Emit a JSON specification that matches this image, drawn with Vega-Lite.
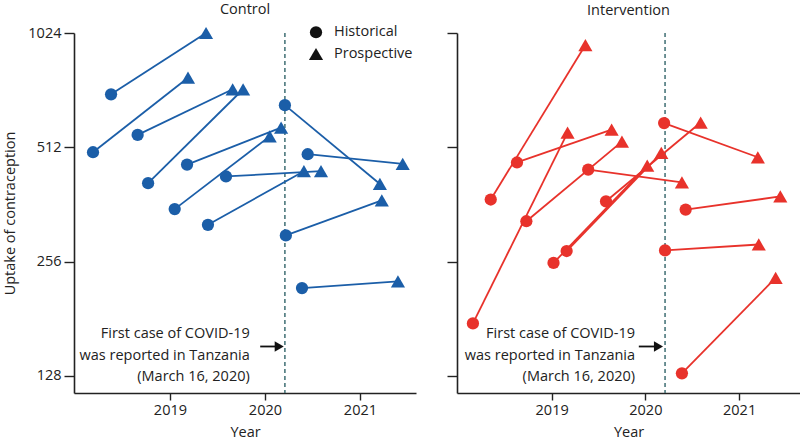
{
  "$schema": "https://vega.github.io/schema/vega-lite/v6.json",
  "background": "white",
  "padding": {"left": 2, "top": 1, "right": 0, "bottom": 0},
  "spacing": 30,
  "config": {
    "font": "Open Sans",
    "view": {"stroke": null},
    "axis": {"grid": false, "domainColor": "#222", "domainWidth": 1.6, "tickColor": "#222", "tickWidth": 1.4, "labelFont": "Open Sans", "labelFontSize": 14.5, "labelColor": "#222", "titleFont": "Open Sans", "titleFontSize": 14.5, "titleFontWeight": "normal", "titleColor": "#222"},
    "title": {"font": "Open Sans", "fontSize": 14.5, "fontWeight": "normal", "color": "#222"},
    "legend": {"labelFont": "Open Sans", "labelFontSize": 14.5, "labelColor": "#222", "symbolBaseFillColor": "#111", "symbolBaseStrokeColor": "#111"}
  },
  "datasets": {
    "control": [
      {"id": 1, "type": "Historical", "year": 2018.38, "value": 706},
      {"id": 1, "type": "Prospective", "year": 2019.38, "value": 1024},
      {"id": 2, "type": "Historical", "year": 2018.19, "value": 497},
      {"id": 2, "type": "Prospective", "year": 2019.19, "value": 781},
      {"id": 3, "type": "Historical", "year": 2018.66, "value": 552},
      {"id": 3, "type": "Prospective", "year": 2019.66, "value": 728},
      {"id": 4, "type": "Historical", "year": 2018.77, "value": 412},
      {"id": 4, "type": "Prospective", "year": 2019.77, "value": 728},
      {"id": 5, "type": "Historical", "year": 2019.18, "value": 461},
      {"id": 5, "type": "Prospective", "year": 2020.17, "value": 577},
      {"id": 6, "type": "Historical", "year": 2019.05, "value": 352},
      {"id": 6, "type": "Prospective", "year": 2020.05, "value": 547},
      {"id": 7, "type": "Historical", "year": 2019.59, "value": 429},
      {"id": 7, "type": "Prospective", "year": 2020.59, "value": 443},
      {"id": 8, "type": "Historical", "year": 2019.40, "value": 320},
      {"id": 8, "type": "Prospective", "year": 2020.41, "value": 443},
      {"id": 9, "type": "Historical", "year": 2020.21, "value": 661},
      {"id": 9, "type": "Prospective", "year": 2021.21, "value": 410},
      {"id": 10, "type": "Historical", "year": 2020.45, "value": 491},
      {"id": 10, "type": "Prospective", "year": 2021.45, "value": 463},
      {"id": 11, "type": "Historical", "year": 2020.22, "value": 300},
      {"id": 11, "type": "Prospective", "year": 2021.23, "value": 371},
      {"id": 12, "type": "Historical", "year": 2020.39, "value": 218},
      {"id": 12, "type": "Prospective", "year": 2021.40, "value": 227}
    ],
    "intervention": [
      {"id": 1, "type": "Historical", "year": 2018.16, "value": 176},
      {"id": 1, "type": "Prospective", "year": 2019.17, "value": 560},
      {"id": 2, "type": "Historical", "year": 2018.35, "value": 373},
      {"id": 2, "type": "Prospective", "year": 2019.36, "value": 952},
      {"id": 3, "type": "Historical", "year": 2018.63, "value": 467},
      {"id": 3, "type": "Prospective", "year": 2019.64, "value": 570},
      {"id": 4, "type": "Historical", "year": 2018.73, "value": 327},
      {"id": 4, "type": "Prospective", "year": 2019.75, "value": 530},
      {"id": 5, "type": "Historical", "year": 2019.39, "value": 447},
      {"id": 5, "type": "Prospective", "year": 2020.39, "value": 414},
      {"id": 6, "type": "Historical", "year": 2019.02, "value": 254},
      {"id": 6, "type": "Prospective", "year": 2020.02, "value": 458},
      {"id": 7, "type": "Historical", "year": 2019.16, "value": 273},
      {"id": 7, "type": "Prospective", "year": 2020.17, "value": 495},
      {"id": 8, "type": "Historical", "year": 2019.58, "value": 369},
      {"id": 8, "type": "Prospective", "year": 2020.59, "value": 595},
      {"id": 9, "type": "Historical", "year": 2020.20, "value": 593},
      {"id": 9, "type": "Prospective", "year": 2021.20, "value": 482},
      {"id": 10, "type": "Historical", "year": 2020.43, "value": 351},
      {"id": 10, "type": "Prospective", "year": 2021.44, "value": 380},
      {"id": 11, "type": "Historical", "year": 2020.21, "value": 274},
      {"id": 11, "type": "Prospective", "year": 2021.21, "value": 284},
      {"id": 12, "type": "Historical", "year": 2020.39, "value": 130},
      {"id": 12, "type": "Prospective", "year": 2021.39, "value": 232}
    ],
    "covid": [{"date": 2020.21}],
    "noteLeft": [{"year": 2019.84, "value": 165, "label": "First case of COVID-19\nwas reported in Tanzania\n(March 16, 2020)"}],
    "arrowLeft": [{"x1": 2019.95, "x2": 2020.13, "y": 153, "tip": 2020.15}],
    "noteRight": [{"year": 2019.89, "value": 165, "label": "First case of COVID-19\nwas reported in Tanzania\n(March 16, 2020)"}],
    "arrowRight": [{"x1": 2019.93, "x2": 2020.11, "y": 153, "tip": 2020.14}]
  },
  "resolve": {"legend": {"shape": "independent", "size": "independent", "color": "independent"}, "scale": {"shape": "independent", "size": "independent", "color": "independent"}},
  "hconcat": [
    {
      "title": {"text": "Control", "offset": 8},
      "width": 342,
      "height": 360,
      "layer": [
        {
          "data": {"name": "covid"},
          "mark": {"type": "rule", "color": "#3f6e73", "strokeDash": [4, 3], "strokeWidth": 1.5},
          "encoding": {"x": {"field": "date", "type": "quantitative"}}
        },
        {
          "data": {"name": "control"},
          "mark": {"type": "line", "strokeWidth": 1.8},
          "encoding": {
            "x": {"field": "year", "type": "quantitative", "scale": {"domain": [2017.99, 2021.59], "nice": false, "zero": false},
              "axis": {"values": [2019, 2020, 2021], "format": "d", "title": "Year", "tickSize": 7, "labelPadding": 3, "titlePadding": 9}},
            "y": {"field": "value", "type": "quantitative", "scale": {"type": "log", "base": 2, "domain": [115.4, 1024], "nice": false, "zero": false},
              "axis": {"values": [128, 256, 512, 1024], "format": "d", "title": "Uptake of contraception", "tickSize": 10, "labelPadding": 3, "titlePadding": 10}},
            "color": {"field": "id", "type": "nominal", "scale": {"range": ["#1b5ea8"]}, "legend": null}
          }
        },
        {
          "data": {"name": "control"},
          "mark": {"type": "point", "filled": true, "opacity": 1},
          "encoding": {
            "x": {"field": "year", "type": "quantitative"},
            "y": {"field": "value", "type": "quantitative"},
            "color": {"field": "id", "type": "nominal", "legend": null},
            "size": {"field": "type", "type": "nominal", "scale": {"domain": ["Historical", "Prospective"], "range": [150, 200]},
              "legend": {"title": null, "orient": "none", "legendX": 234, "legendY": -8, "rowPadding": 2, "labelOffset": 10}},
            "shape": {"field": "type", "type": "nominal",
              "scale": {"domain": ["Historical", "Prospective"], "range": ["circle", "triangle-up"]},
              "legend": {"title": null, "orient": "none", "legendX": 234, "legendY": -8, "rowPadding": 2, "labelOffset": 10}}
          }
        },
        {
          "data": {"name": "noteLeft"},
          "mark": {"type": "text", "align": "right", "baseline": "middle", "fontSize": 14.5, "lineHeight": 21.5, "lineBreak": "\n", "color": "#222"},
          "encoding": {"x": {"field": "year", "type": "quantitative"}, "y": {"field": "value", "type": "quantitative"}, "text": {"field": "label"}}
        },
        {
          "data": {"name": "arrowLeft"},
          "mark": {"type": "rule", "color": "#111", "strokeWidth": 1.8},
          "encoding": {"x": {"field": "x1", "type": "quantitative"}, "x2": {"field": "x2"}, "y": {"field": "y", "type": "quantitative"}}
        },
        {
          "data": {"name": "arrowLeft"},
          "mark": {"type": "point", "shape": "triangle-right", "filled": true, "opacity": 1, "color": "#111", "size": 110},
          "encoding": {"x": {"field": "tip", "type": "quantitative"}, "y": {"field": "y", "type": "quantitative"}}
        }
      ]
    },
    {
      "title": {"text": "Intervention", "offset": 14},
      "width": 343,
      "height": 360,
      "layer": [
        {
          "data": {"name": "covid"},
          "mark": {"type": "rule", "color": "#3f6e73", "strokeDash": [4, 3], "strokeWidth": 1.5},
          "encoding": {"x": {"field": "date", "type": "quantitative"}}
        },
        {
          "data": {"name": "intervention"},
          "mark": {"type": "line", "strokeWidth": 1.8},
          "encoding": {
            "x": {"field": "year", "type": "quantitative", "scale": {"domain": [2017.99, 2021.65], "nice": false, "zero": false},
              "axis": {"values": [2019, 2020, 2021], "format": "d", "title": "Year", "tickSize": 7, "labelPadding": 3, "titlePadding": 9}},
            "y": {"field": "value", "type": "quantitative", "scale": {"type": "log", "base": 2, "domain": [115.4, 1024], "nice": false, "zero": false},
              "axis": {"values": [128, 256, 512, 1024], "labels": false, "title": null, "tickSize": 10}},
            "color": {"field": "id", "type": "nominal", "scale": {"range": ["#e8322b"]}, "legend": null}
          }
        },
        {
          "data": {"name": "intervention"},
          "mark": {"type": "point", "filled": true, "opacity": 1},
          "encoding": {
            "x": {"field": "year", "type": "quantitative"},
            "y": {"field": "value", "type": "quantitative"},
            "color": {"field": "id", "type": "nominal", "legend": null},
            "size": {"field": "type", "type": "nominal", "scale": {"domain": ["Historical", "Prospective"], "range": [150, 200]}, "legend": null},
            "shape": {"field": "type", "type": "nominal",
              "scale": {"domain": ["Historical", "Prospective"], "range": ["circle", "triangle-up"]},
              "legend": null}
          }
        },
        {
          "data": {"name": "noteRight"},
          "mark": {"type": "text", "align": "right", "baseline": "middle", "fontSize": 14.5, "lineHeight": 21.5, "lineBreak": "\n", "color": "#222"},
          "encoding": {"x": {"field": "year", "type": "quantitative"}, "y": {"field": "value", "type": "quantitative"}, "text": {"field": "label"}}
        },
        {
          "data": {"name": "arrowRight"},
          "mark": {"type": "rule", "color": "#111", "strokeWidth": 1.8},
          "encoding": {"x": {"field": "x1", "type": "quantitative"}, "x2": {"field": "x2"}, "y": {"field": "y", "type": "quantitative"}}
        },
        {
          "data": {"name": "arrowRight"},
          "mark": {"type": "point", "shape": "triangle-right", "filled": true, "opacity": 1, "color": "#111", "size": 110},
          "encoding": {"x": {"field": "tip", "type": "quantitative"}, "y": {"field": "y", "type": "quantitative"}}
        }
      ]
    }
  ]
}
